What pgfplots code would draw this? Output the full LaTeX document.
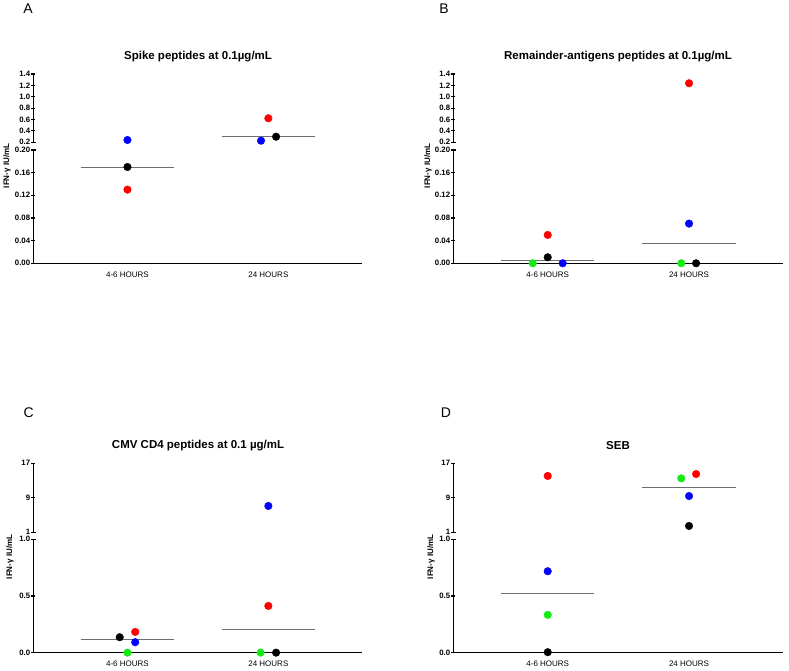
\documentclass[border=0pt]{standalone}
\usepackage{pgfplots}
\pgfplotsset{compat=1.18}
\usepackage{fontspec}
\setmainfont{Liberation Sans}
\definecolor{cred}{RGB}{255,0,0}
\definecolor{cblue}{RGB}{0,0,255}
\definecolor{cgreen}{RGB}{20,235,20}
\definecolor{cmed}{RGB}{110,110,110}
\pgfplotsset{
  base/.style={scale only axis, clip=false, xmin=-0.668, xmax=1.665,
    tick align=outside, major tick length=4pt,
    ytick style={line width=1.1pt, black},
    yticklabel style={font=\bfseries\fontsize{7.8}{8}\selectfont, inner sep=1pt},
    xtick style={draw=none},
  },
  fixlines/.style={axis line style={line width=1.1pt, black},
    x axis line style={-}, y axis line style={-},
    every outer x axis line/.style={-}, every outer y axis line/.style={-}},
  lower/.style={base, axis x line=bottom, axis y line=left, fixlines, xtick={0,1},
    xticklabels={4-6 HOURS, 24 HOURS},
    xticklabel style={font=\fontsize{8}{9}\selectfont, inner sep=0pt, yshift=-6pt}},
  upper/.style={base, axis x line=none, axis y line=left, fixlines, xtick=\empty},
  dot/.style={only marks, mark=*, mark size=3.8pt, mark options={draw=#1, fill=#1}},
  med/.style={no marks, cmed, line width=0.9pt},
}
\newcommand{\brkup}{\draw[line width=1.1pt] (rel axis cs:0,0) -- ([xshift=3pt]rel axis cs:0,0);}
\newcommand{\brklow}{\draw[line width=1.1pt] (rel axis cs:0,1) -- ([xshift=3pt]rel axis cs:0,1);}
\begin{document}
\begin{tikzpicture}
\path (0,0) rectangle (789pt,671pt);
% ---------------- Panel A ----------------
\begin{axis}[lower, at={(33.3pt,407.7pt)}, anchor=south west, width=328.7pt, height=113.3pt,
  ymin=0, ymax=0.2, ytick={0,0.04,0.08,0.12,0.16,0.2},
  yticklabels={0.00,0.04,0.08,0.12,0.16,0.20}]
\addplot[med] coordinates {(-0.33,0.170) (0.33,0.170)};
\addplot[dot=cred] coordinates {(0,0.130)};
\addplot[dot=black] coordinates {(0,0.170)};
\brklow
\end{axis}
\begin{axis}[upper, at={(33.3pt,528.7pt)}, anchor=south west, width=328.7pt, height=68.3pt,
  ymin=0.2, ymax=1.4, ytick={0.2,0.4,0.6,0.8,1.0,1.2,1.4},
  yticklabels={0.2,0.4,0.6,0.8,1.0,1.2,1.4}]
\addplot[med] coordinates {(0.67,0.298) (1.33,0.298)};
\addplot[dot=cblue] coordinates {(0,0.240) (0.948,0.228)};
\addplot[dot=cred] coordinates {(1,0.622)};
\addplot[dot=black] coordinates {(1.055,0.298)};
\brkup
\end{axis}
% ---------------- Panel B ----------------
\begin{axis}[lower, at={(453.3pt,407.7pt)}, anchor=south west, width=329.7pt, height=113.3pt,
  ymin=0, ymax=0.2, ytick={0,0.04,0.08,0.12,0.16,0.2},
  yticklabels={0.00,0.04,0.08,0.12,0.16,0.20}]
\addplot[med] coordinates {(-0.33,0.0053) (0.33,0.0053)};
\addplot[med] coordinates {(0.67,0.035) (1.33,0.035)};
\addplot[dot=cred] coordinates {(0,0.050)};
\addplot[dot=cgreen] coordinates {(-0.106,0) (0.945,0)};
\addplot[dot=black] coordinates {(0,0.0106) (1.05,0)};
\addplot[dot=cblue] coordinates {(0.106,0) (1,0.070)};
\brklow
\end{axis}
\begin{axis}[upper, at={(453.3pt,528.7pt)}, anchor=south west, width=329.7pt, height=68.3pt,
  ymin=0.2, ymax=1.4, ytick={0.2,0.4,0.6,0.8,1.0,1.2,1.4},
  yticklabels={0.2,0.4,0.6,0.8,1.0,1.2,1.4}]
\addplot[dot=cred] coordinates {(1,1.237)};
\brkup
\end{axis}
% ---------------- Panel C ----------------
\begin{axis}[lower, at={(33.3pt,18.3pt)}, anchor=south west, width=328.7pt, height=113.4pt,
  ymin=0, ymax=1, ytick={0,0.5,1}, yticklabels={0.0,0.5,1.0}]
\addplot[med] coordinates {(-0.33,0.114) (0.33,0.114)};
\addplot[med] coordinates {(0.67,0.206) (1.33,0.206)};
\addplot[dot=black] coordinates {(-0.055,0.136) (1.055,0)};
\addplot[dot=cred] coordinates {(0.055,0.183) (1,0.412)};
\addplot[dot=cblue] coordinates {(0.055,0.092)};
\addplot[dot=cgreen] coordinates {(0,0) (0.945,0)};
\brklow
\end{axis}
\begin{axis}[upper, at={(33.3pt,138.7pt)}, anchor=south west, width=328.7pt, height=69pt,
  ymin=1, ymax=17, ytick={1,9,17}, yticklabels={1,9,17}]
\addplot[dot=cblue] coordinates {(1,7.1)};
\brkup
\end{axis}
% ---------------- Panel D ----------------
\begin{axis}[lower, at={(453.3pt,18.3pt)}, anchor=south west, width=329.7pt, height=113.4pt,
  ymin=0, ymax=1, ytick={0,0.5,1}, yticklabels={0.0,0.5,1.0}]
\addplot[med] coordinates {(-0.33,0.526) (0.33,0.526)};
\addplot[dot=cblue] coordinates {(0,0.718)};
\addplot[dot=cgreen] coordinates {(0,0.333)};
\addplot[dot=black] coordinates {(0,0.004)};
\brklow
\end{axis}
\begin{axis}[upper, at={(453.3pt,138.7pt)}, anchor=south west, width=329.7pt, height=69pt,
  ymin=1, ymax=17, ytick={1,9,17}, yticklabels={1,9,17}]
\addplot[med] coordinates {(0.67,11.45) (1.33,11.45)};
\addplot[dot=cred] coordinates {(0,14.06) (1.05,14.5)};
\addplot[dot=cgreen] coordinates {(0.945,13.5)};
\addplot[dot=cblue] coordinates {(1,9.4)};
\addplot[dot=black] coordinates {(1,2.46)};
\brkup
\end{axis}
% ---------------- Text ----------------
\node[font=\fontsize{14}{16}\selectfont] at (28pt,662pt) {A};
\node[font=\fontsize{14}{16}\selectfont] at (444pt,662pt) {B};
\node[font=\fontsize{14}{16}\selectfont] at (28.5pt,258pt) {C};
\node[font=\fontsize{14}{16}\selectfont] at (446pt,258pt) {D};
\node[font=\bfseries\fontsize{11.5}{13}\selectfont] at (198pt,614pt) {Spike peptides at 0.1µg/mL};
\node[font=\bfseries\fontsize{11.5}{13}\selectfont] at (618pt,614pt) {Remainder-antigens peptides at 0.1µg/mL};
\node[font=\bfseries\fontsize{11.5}{13}\selectfont] at (198pt,225pt) {CMV CD4 peptides at 0.1 µg/mL};
\node[font=\bfseries\fontsize{11.5}{13}\selectfont] at (618pt,225pt) {SEB};
\node[rotate=90, font=\bfseries\fontsize{8}{9}\selectfont] at (7pt,505pt) {IFN-γ IU/mL};
\node[rotate=90, font=\bfseries\fontsize{8}{9}\selectfont] at (428pt,505pt) {IFN-γ IU/mL};
\node[rotate=90, font=\bfseries\fontsize{8}{9}\selectfont] at (10pt,114pt) {IFN-γ IU/mL};
\node[rotate=90, font=\bfseries\fontsize{8}{9}\selectfont] at (431pt,114pt) {IFN-γ IU/mL};
\end{tikzpicture}
\end{document}
